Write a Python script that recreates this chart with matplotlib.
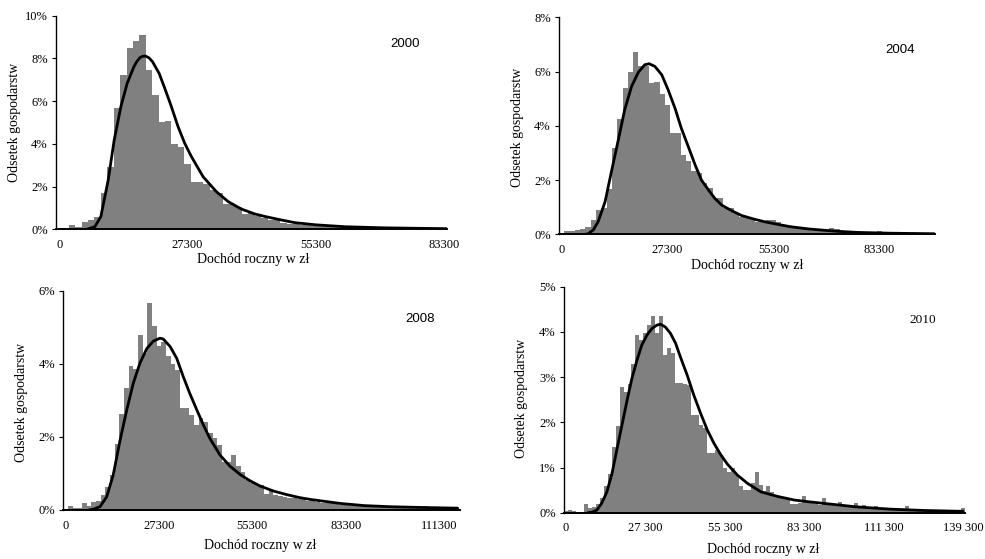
import matplotlib
matplotlib.use("Agg")
import matplotlib.pyplot as plt
from matplotlib.ticker import PercentFormatter

plt.rcParams["font.family"] = ["Liberation Serif", "DejaVu Serif"]

# --- bar heights (% of households) per 1400 zl income class ---
share_2000 = [0.03, 0.05, 0.2, 0.12, 0.33, 0.44, 0.56, 1.68, 2.93, 5.7,
              7.22, 8.5, 8.83, 9.1, 7.46, 6.29, 5.04, 5.09, 4.0, 3.84,
              3.06, 2.23, 2.23, 2.12, 1.84, 1.72, 1.17, 1.17, 1.06, 0.72,
              0.75, 0.6, 0.55, 0.45, 0.42, 0.3, 0.27, 0.25, 0.2, 0.2,
              0.17, 0.15, 0.14, 0.12, 0.11, 0.1, 0.09, 0.08, 0.07, 0.07,
              0.06, 0.06, 0.05, 0.05, 0.05, 0.04, 0.04, 0.04, 0.03, 0.03,
              0.03]

share_2004 = [0.06, 0.12, 0.14, 0.16, 0.2, 0.26, 0.53, 0.9, 0.98, 1.67,
              3.18, 4.25, 5.39, 6.0, 6.72, 6.22, 6.2, 5.57, 5.63, 5.17,
              4.75, 3.73, 3.73, 2.93, 2.7, 2.33, 2.25, 1.88, 1.7, 1.33,
              1.33, 0.96, 0.96, 0.78, 0.65, 0.59, 0.55, 0.47, 0.45, 0.53,
              0.53, 0.45, 0.35, 0.3, 0.27, 0.24, 0.2, 0.18, 0.17, 0.15,
              0.14, 0.25, 0.18, 0.12, 0.1, 0.1, 0.08, 0.08, 0.07, 0.07,
              0.14, 0.06, 0.08, 0.05, 0.04, 0.04, 0.03, 0.03, 0.03, 0.02,
              0.02]

share_2008 = [0.03, 0.1, 0.05, 0.05, 0.2, 0.1, 0.22, 0.25, 0.4, 0.62,
              0.96, 1.8, 2.64, 3.35, 3.94, 3.87, 4.8, 4.3, 5.65, 5.04,
              4.5, 4.6, 4.2, 4.0, 3.83, 2.8, 2.8, 2.6, 2.33, 2.53,
              2.42, 2.12, 1.96, 1.78, 1.32, 1.32, 1.5, 1.2, 1.05, 0.82,
              0.73, 0.68, 0.68, 0.43, 0.55, 0.42, 0.38, 0.35, 0.32, 0.32,
              0.3, 0.3, 0.25, 0.25, 0.22, 0.2, 0.2, 0.18, 0.16, 0.15,
              0.14, 0.13, 0.12, 0.11, 0.11, 0.1, 0.1, 0.09, 0.08, 0.08,
              0.07, 0.07, 0.1, 0.06, 0.06, 0.05, 0.05, 0.1, 0.05, 0.06,
              0.04, 0.05, 0.04, 0.04, 0.03]

share_2010 = [0.04, 0.05, 0.03, 0.01, 0.02, 0.2, 0.1, 0.12, 0.2, 0.33,
              0.6, 0.85, 1.45, 1.92, 2.78, 2.68, 2.85, 3.3, 3.93, 3.82,
              3.97, 4.15, 4.35, 3.97, 4.35, 3.49, 3.64, 3.53, 2.86, 2.86,
              2.85, 2.83, 2.16, 2.16, 1.94, 1.87, 1.31, 1.31, 1.39, 1.28,
              1.0, 0.91, 0.98, 0.83, 0.6, 0.5, 0.5, 0.65, 0.9, 0.61,
              0.48, 0.6, 0.46, 0.4, 0.38, 0.35, 0.32, 0.2, 0.2, 0.22,
              0.38, 0.26, 0.22, 0.2, 0.18, 0.33, 0.18, 0.16, 0.15, 0.24,
              0.14, 0.13, 0.12, 0.21, 0.11, 0.17, 0.1, 0.1, 0.15, 0.09,
              0.08, 0.08, 0.07, 0.07, 0.06, 0.06, 0.15, 0.05, 0.05, 0.05,
              0.04, 0.04, 0.04, 0.04, 0.03, 0.03, 0.03, 0.03, 0.03, 0.03,
              0.1]

# --- fitted density curves (class index, %) ---
fit_x_2000 = [4.27, 5.56, 6.5, 7.64, 8.58, 9.62, 10.6, 11.64, 12.1, 12.58,
              13.0, 13.46, 14.0, 14.55, 15.59, 16.47, 17.41, 18.55, 19.59, 20.63,
              22.45, 24.53, 26.34, 28.4, 30.5, 32.1, 34.9, 36.8, 40, 44.6,
              50.5, 55, 60.4]
fit_y_2000 = [0.0, 0.12, 0.6, 2.3, 4.18, 5.74, 6.83, 7.6, 7.85, 8.03,
              8.1, 8.11, 8.03, 7.85, 7.3, 6.6, 5.82, 4.8, 4.02, 3.4,
              2.46, 1.76, 1.3, 0.95, 0.72, 0.6, 0.42, 0.31, 0.21, 0.12,
              0.07, 0.05, 0.03]

fit_x_2004 = [4.5, 5.0, 5.97, 6.9, 8.2, 9.4, 10.7, 11.9, 13.2, 14.5,
              15.7, 16.5, 17.6, 18.9, 20.1, 21.4, 22.6, 23.9, 25.2, 26.4,
              27.7, 28.9, 30.2, 32.1, 34.0, 36.5, 38.4, 41.5, 43.2, 46.5,
              49.5, 52.2, 55.8, 62.1, 70.4]
fit_y_2004 = [0.0, 0.02, 0.16, 0.47, 1.2, 2.31, 3.48, 4.59, 5.45, 5.98,
              6.25, 6.29, 6.19, 5.88, 5.33, 4.65, 3.91, 3.24, 2.56, 2.0,
              1.64, 1.33, 1.08, 0.87, 0.69, 0.55, 0.46, 0.34, 0.28, 0.2,
              0.15, 0.11, 0.07, 0.04, 0.02]

fit_x_2008 = [5.0, 5.9, 7.36, 8.8, 10.2, 11.6, 13.1, 14.5, 15.9, 17.4,
              18.8, 20.2, 20.9, 22.4, 23.8, 25.2, 26.6, 28.1, 29.5, 30.9,
              33.1, 35.2, 37.4, 39.5, 41.6, 44.5, 47.4, 50.1, 52.4, 58.8,
              64, 69.5, 76, 84]
fit_y_2008 = [0.0, 0.02, 0.09, 0.36, 0.96, 1.87, 2.74, 3.47, 4.01, 4.42,
              4.62, 4.7, 4.68, 4.47, 4.15, 3.65, 3.19, 2.74, 2.33, 1.96,
              1.5, 1.2, 0.97, 0.8, 0.66, 0.52, 0.42, 0.34, 0.29, 0.18,
              0.12, 0.09, 0.07, 0.05]

fit_x_2010 = [5.5, 6.5, 7.8, 9.0, 10.3, 11.6, 12.8, 14.1, 15.4, 16.6,
              17.9, 19.1, 20.4, 21.7, 22.9, 23.8, 25.0, 26.3, 27.6, 28.8,
              30.5, 32.2, 33.9, 35.6, 37.3, 39.0, 40.6, 43.2, 45.7, 49.1,
              53.3, 57.5, 61.3, 64.5, 73, 81.4, 89.9, 100]
fit_y_2010 = [0.0, 0.01, 0.06, 0.21, 0.46, 0.87, 1.39, 1.94, 2.49, 2.97,
              3.38, 3.71, 3.93, 4.08, 4.15, 4.17, 4.11, 3.97, 3.75, 3.45,
              3.05, 2.6, 2.2, 1.83, 1.53, 1.28, 1.08, 0.83, 0.65, 0.46,
              0.36, 0.28, 0.24, 0.21, 0.13, 0.08, 0.05, 0.03]

ticks_a = ["0", "27300", "55300", "83300"]
ticks_b = ["0", "27300", "55300", "83300", "111300"]
ticks_c = ["0", "27 300", "55 300", "83 300", "111 300", "139 300"]

W, H = 985, 559


def px(x, y):
    return x / W, 1 - y / H


fig = plt.figure(figsize=(W / 100, H / 100), dpi=100)

# panel boxes in pixels: left, top, right, bottom
panels = [
    dict(box=(56, 15.7, 447, 229.3), bars=share_2000, fx=fit_x_2000, fy=fit_y_2000,
         ymax=10, ystep=2, xt=ticks_a, year="2000", year_xy=(405, 44), year_font="Liberation Sans",
         xl_xy=(253, 260), yl_xy=(15, 122)),
    dict(box=(559, 17.3, 935, 234.3), bars=share_2004, fx=fit_x_2004, fy=fit_y_2004,
         ymax=8, ystep=2, xt=ticks_a, year="2004", year_xy=(900, 50), year_font="Liberation Sans",
         xl_xy=(747, 266), yl_xy=(518, 127)),
    dict(box=(63.3, 290.7, 460, 510), bars=share_2008, fx=fit_x_2008, fy=fit_y_2008,
         ymax=6, ystep=2, xt=ticks_b, year="2008", year_xy=(420, 319), year_font="Liberation Sans",
         xl_xy=(260, 545), yl_xy=(22, 402)),
    dict(box=(564, 286.7, 965, 512.7), bars=share_2010, fx=fit_x_2010, fy=fit_y_2010,
         ymax=5, ystep=1, xt=ticks_c, year="2010", year_xy=(923, 320), year_font="Liberation Serif",
         xl_xy=(763, 550), yl_xy=(522, 398)),
]

for p in panels:
    l, t, r, b = p["box"]
    ax = fig.add_axes([l / W, 1 - b / H, (r - l) / W, (b - t) / H])
    n = len(p["bars"])
    ax.bar(range(n), p["bars"], width=1.0, color="#808080", linewidth=0)
    ax.plot(p["fx"], p["fy"], color="black", lw=2.0, solid_capstyle="round",
            solid_joinstyle="round")
    ax.set_xlim(-0.5, n - 0.5)
    ax.set_ylim(0, p["ymax"])
    ax.set_yticks(range(0, p["ymax"] + 1, p["ystep"]))
    ax.yaxis.set_major_formatter(PercentFormatter(decimals=0))
    ax.set_xticks([20 * k for k in range(len(p["xt"]))])
    ax.set_xticklabels(p["xt"])
    for s in ["top", "right"]:
        ax.spines[s].set_visible(False)
    for s in ["left", "bottom"]:
        ax.spines[s].set_linewidth(1.0)
        ax.spines[s].set_color("black")
    ax.spines["bottom"].set_linewidth(1.4)
    ax.tick_params(axis="x", length=0, pad=7, labelsize=9)
    ax.tick_params(axis="y", length=3, width=0.8, pad=3, labelsize=9)
    ax.patch.set_alpha(0)

    fig.text(*px(*p["year_xy"]), p["year"], ha="center", va="center",
             fontsize=9.5, family=[p["year_font"], "DejaVu Sans"])
    fig.text(*px(*p["xl_xy"]), "Dochód roczny w zł", ha="center", va="center", fontsize=10)
    fig.text(*px(*p["yl_xy"]), "Odsetek gospodarstw", ha="center", va="center",
             rotation=90, fontsize=10)

fig.savefig("out.png", dpi=100)
